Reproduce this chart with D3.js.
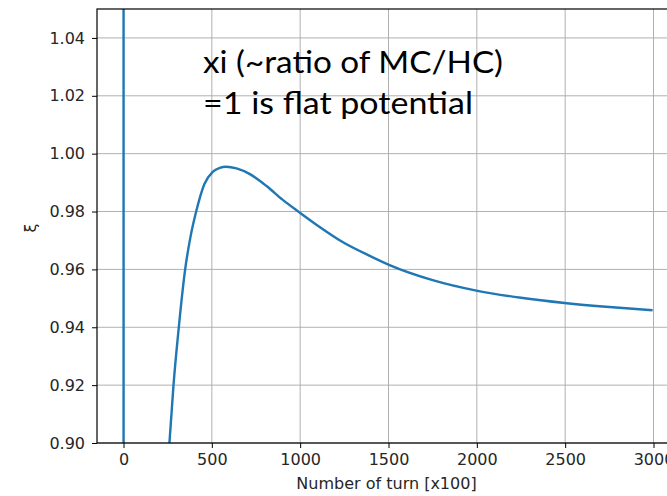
<!DOCTYPE html>
<html>
<head>
<meta charset="utf-8">
<script src="https://cdn.jsdelivr.net/npm/d3@7"></script>
<style>
  body { margin: 0; background: #fff; }
  svg { display: block; }
</style>
</head>
<body>
<svg id="chart" width="667" height="496"></svg>
<script>
// turn number (x100)
const turns = [0, 1, 150, 200, 240, 260, 283, 313, 349, 380, 411, 458, 505, 545, 581, 640, 713, 808, 900, 996, 1100, 1250, 1400, 1506, 1750, 2004, 2250, 2497, 2750, 2995];
// xi values
const xi = [1.5, 0.3, 0.68, 0.835, 0.881, 0.900, 0.920, 0.940, 0.960, 0.9715, 0.9799, 0.9895, 0.9937, 0.9951, 0.9955, 0.9949, 0.9930, 0.9889, 0.9841, 0.9797, 0.9751, 0.9691, 0.9645, 0.9615, 0.9563, 0.9526, 0.9502, 0.9484, 0.9470, 0.9459];
const xTicks = [0, 500, 1000, 1500, 2000, 2500, 3000];
const yTicks = [0.90, 0.92, 0.94, 0.96, 0.98, 1.00, 1.02, 1.04];
const noteLines = ["xi (~ratio of MC/HC)", "=1 is flat potential"];

const data = turns.map((t, i) => ({ t: t, v: xi[i] }));

const svg = d3.select("#chart");
const plotL = 97, plotT = 9, plotR = 680, plotB = 443;

const x = d3.scaleLinear().domain([-150, 3150]).range([plotL, plotR]);
const y = d3.scaleLinear().domain([0.90, 1.05]).range([plotB, plotT]);

svg.append("defs").append("clipPath").attr("id", "plotclip")
  .append("rect").attr("x", plotL).attr("y", plotT)
  .attr("width", plotR - plotL).attr("height", plotB - plotT);

// grid
const grid = svg.append("g").attr("stroke", "#b0b0b0").attr("stroke-width", 1);
grid.selectAll(".vg").data(xTicks).enter().append("line")
  .attr("x1", d => x(d)).attr("x2", d => x(d))
  .attr("y1", plotT).attr("y2", plotB);
grid.selectAll(".hg").data(yTicks).enter().append("line")
  .attr("x1", plotL).attr("x2", plotR)
  .attr("y1", d => y(d)).attr("y2", d => y(d));

// the xi curve
const line = d3.line()
  .x(d => x(d.t))
  .y(d => y(d.v))
  .curve(d3.curveMonotoneX);

svg.append("path")
  .datum(data)
  .attr("clip-path", "url(#plotclip)")
  .attr("d", line)
  .attr("fill", "none")
  .attr("stroke", "#1f77b4")
  .attr("stroke-width", 2.4);

// axes
const xAxis = d3.axisBottom(x).tickValues(xTicks).tickFormat(d3.format("d")).tickSize(5).tickPadding(6);
const yAxis = d3.axisLeft(y).tickValues(yTicks).tickFormat(d3.format(".2f")).tickSize(5).tickPadding(7);

const gx = svg.append("g").attr("transform", `translate(0,${plotB})`).call(xAxis);
const gy = svg.append("g").attr("transform", `translate(${plotL},0)`).call(yAxis);

[gx, gy].forEach(g => {
  g.select(".domain").remove();
  g.selectAll(".tick line").attr("stroke", "#000").attr("stroke-width", 1);
  g.selectAll(".tick text")
    .attr("fill", "#262626")
    .style("font-family", "DejaVu Sans, sans-serif")
    .style("font-size", "16px");
});

// spines
svg.append("rect")
  .attr("x", plotL).attr("y", plotT)
  .attr("width", plotR - plotL).attr("height", plotB - plotT)
  .attr("fill", "none").attr("stroke", "#000").attr("stroke-width", 1.2);

// axis labels
svg.append("text")
  .attr("x", (plotL + plotR) / 2 - 2).attr("y", 489)
  .attr("text-anchor", "middle")
  .attr("fill", "#262626")
  .style("font-family", "DejaVu Sans, sans-serif")
  .style("font-size", "16px")
  .text("Number of turn [x100]");

svg.append("text")
  .attr("transform", "translate(36,228) rotate(-90)")
  .attr("text-anchor", "middle")
  .attr("fill", "#262626")
  .style("font-family", "DejaVu Sans, sans-serif")
  .style("font-size", "16px")
  .text("ξ");

// slide note on top of the plot
svg.selectAll(".note").data(noteLines).enter().append("text")
  .attr("x", 203)
  .attr("y", (d, i) => 73 + i * 41)
  .attr("fill", "#000")
  .style("font-family", "Lato, Open Sans, sans-serif")
  .style("font-size", "31px")
  .attr("textLength", (d, i) => i === 0 ? 300 : 270)
  .attr("lengthAdjust", "spacingAndGlyphs")
  .text(d => d);
</script>
</body>
</html>
